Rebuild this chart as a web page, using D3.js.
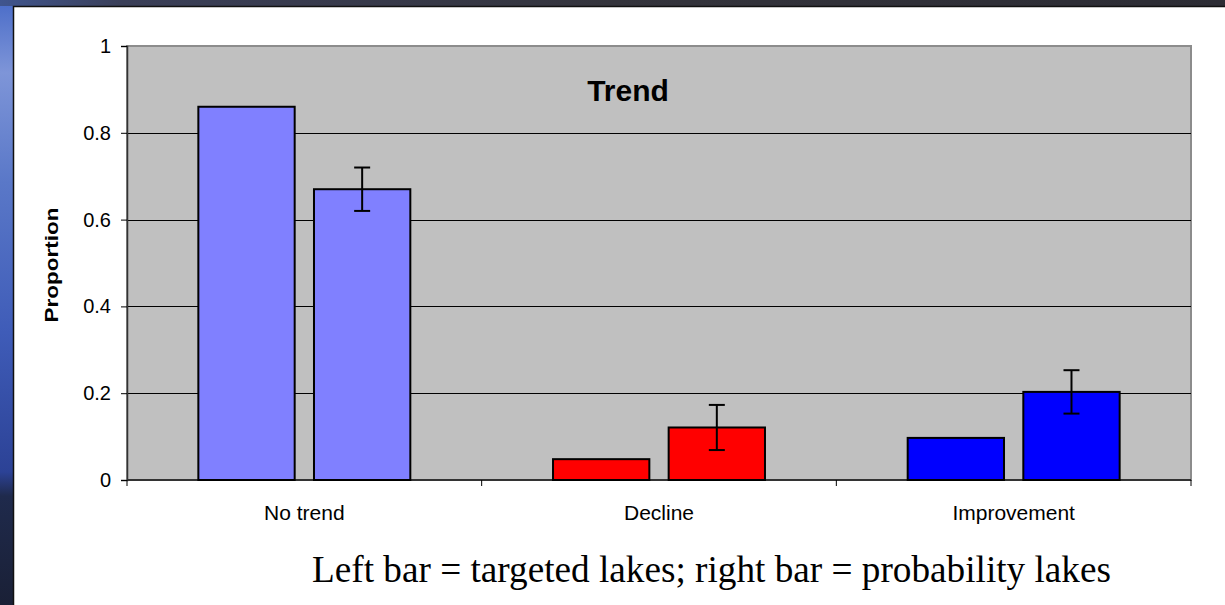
<!DOCTYPE html>
<html>
<head>
<meta charset="utf-8">
<script src="https://cdn.jsdelivr.net/npm/d3@7"></script>
<style>
  html, body { margin: 0; padding: 0; background: #1c2338; }
  svg { display: block; }
</style>
</head>
<body>
<svg class="svg" width="1225" height="605"></svg>
<script>
// data
const categories = ["No trend", "Decline", "Improvement"];
const series = ["targeted", "probability"];
const targeted = [0.86, 0.048, 0.097];
const probability = [0.67, 0.121, 0.203];
const probabilityErr = [0.05, 0.052, 0.05];
const barColors = ["#8080ff", "#ff0000", "#0000ff"];
const yTicks = [0, 0.2, 0.4, 0.6, 0.8, 1];

const width = 1225, height = 605;
const plot = {left: 127, right: 1191, top: 46, bottom: 480};

const svg = d3.select(".svg");
const defs = svg.append("defs");

// slide background (blue strip on the left, dark strip on top)
const gLeft = defs.append("linearGradient").attr("id", "leftStrip")
    .attr("x1", 0).attr("y1", 0).attr("x2", 0).attr("y2", 1);
[[0, "#4a6cc8"], [0.12, "#7e95d8"], [0.3, "#5a78c8"], [0.55, "#3f5cb8"],
 [0.78, "#2c4296"], [0.82, "#1f2a4c"], [1, "#1a2036"]]
    .forEach(([o, c]) => gLeft.append("stop").attr("offset", o).attr("stop-color", c));
const gTop = defs.append("linearGradient").attr("id", "topStrip")
    .attr("x1", 0).attr("y1", 0).attr("x2", 1).attr("y2", 0);
[[0, "#40558e"], [0.1, "#3a3f58"], [0.5, "#34343c"], [1, "#2c2c34"]]
    .forEach(([o, c]) => gTop.append("stop").attr("offset", o).attr("stop-color", c));

svg.append("rect").attr("width", width).attr("height", height).attr("fill", "url(#leftStrip)");
svg.append("rect").attr("width", width).attr("height", 6).attr("fill", "url(#topStrip)");

// white panel
svg.append("rect")
    .attr("x", 13).attr("y", 6).attr("width", width - 13).attr("height", height - 6)
    .attr("fill", "#ffffff");
svg.append("path")
    .attr("d", `M13.5,${height}V6.5H${width}`)
    .attr("fill", "none").attr("stroke", "#111").attr("stroke-width", 1.5);

// scales
const x = d3.scaleBand().domain(categories).range([plot.left, plot.right]).padding(0);
const xInner = d3.scaleBand().domain(series).range([0, x.bandwidth()])
    .paddingInner(0.167).paddingOuter(0.617);
const y = d3.scaleLinear().domain([0, 1]).range([plot.bottom, plot.top]);

// plot area
svg.append("rect")
    .attr("x", plot.left).attr("y", plot.top)
    .attr("width", plot.right - plot.left).attr("height", plot.bottom - plot.top)
    .attr("fill", "#c0c0c0").attr("stroke", "#8c8c8c").attr("stroke-width", 2);

// gridlines
svg.append("g").selectAll("line")
    .data(yTicks.filter(d => d > 0 && d < 1))
    .enter().append("line")
    .attr("x1", plot.left).attr("x2", plot.right)
    .attr("y1", d => Math.round(y(d)) + 0.5).attr("y2", d => Math.round(y(d)) + 0.5)
    .attr("stroke", "#000").attr("stroke-width", 1);

// y axis
const yAxis = svg.append("g")
    .attr("transform", `translate(${plot.left},0)`)
    .call(d3.axisLeft(y).tickValues(yTicks).tickFormat(d3.format("")).tickSize(6).tickPadding(10));
yAxis.select(".domain").attr("stroke", "#333").attr("stroke-width", 1.5);
yAxis.selectAll(".tick line").attr("stroke", "#000");
yAxis.selectAll(".tick text")
    .attr("font-family", "Liberation Sans, Arial, sans-serif")
    .attr("font-size", 20).attr("fill", "#000");

// x axis with category boundary ticks
const xAxisG = svg.append("g").attr("transform", `translate(0,${plot.bottom})`);
xAxisG.append("line")
    .attr("x1", plot.left).attr("x2", plot.right).attr("y1", 0).attr("y2", 0)
    .attr("stroke", "#333").attr("stroke-width", 2);
xAxisG.selectAll(".sep")
    .data(categories.map(c => x(c)).concat([plot.right]))
    .enter().append("line")
    .attr("x1", d => d).attr("x2", d => d).attr("y1", 0).attr("y2", 6)
    .attr("stroke", "#000").attr("stroke-width", 1);
xAxisG.selectAll(".cat")
    .data(categories)
    .enter().append("text")
    .attr("x", d => x(d) + x.bandwidth() / 2)
    .attr("y", 40)
    .attr("text-anchor", "middle")
    .attr("font-family", "Liberation Sans, Arial, sans-serif")
    .attr("font-size", 21)
    .text(d => d);

// bars
const groups = svg.append("g").selectAll(".grp")
    .data(categories)
    .enter().append("g")
    .attr("class", "grp")
    .attr("transform", d => `translate(${x(d)},0)`);

groups.append("rect")
    .attr("x", (d, i) => xInner("targeted"))
    .attr("y", (d, i) => y(targeted[i]))
    .attr("width", xInner.bandwidth())
    .attr("height", (d, i) => y(0) - y(targeted[i]))
    .attr("fill", (d, i) => barColors[i])
    .attr("stroke", "#000").attr("stroke-width", 2);

groups.append("rect")
    .attr("x", (d, i) => xInner("probability"))
    .attr("y", (d, i) => y(probability[i]))
    .attr("width", xInner.bandwidth())
    .attr("height", (d, i) => y(0) - y(probability[i]))
    .attr("fill", (d, i) => barColors[i])
    .attr("stroke", "#000").attr("stroke-width", 2);

// error bars on the probability lakes
const err = groups.append("g")
    .attr("transform", `translate(${xInner("probability") + xInner.bandwidth() / 2},0)`)
    .attr("stroke", "#000").attr("stroke-width", 2);
err.append("line")
    .attr("y1", (d, i) => y(probability[i] + probabilityErr[i]))
    .attr("y2", (d, i) => y(probability[i] - probabilityErr[i]));
err.append("line")
    .attr("x1", -8).attr("x2", 8)
    .attr("y1", (d, i) => y(probability[i] + probabilityErr[i]))
    .attr("y2", (d, i) => y(probability[i] + probabilityErr[i]));
err.append("line")
    .attr("x1", -8).attr("x2", 8)
    .attr("y1", (d, i) => y(probability[i] - probabilityErr[i]))
    .attr("y2", (d, i) => y(probability[i] - probabilityErr[i]));

// titles
svg.append("text")
    .attr("x", 628).attr("y", 101)
    .attr("text-anchor", "middle")
    .attr("font-family", "Liberation Sans, Arial, sans-serif")
    .attr("font-weight", "bold").attr("font-size", 30)
    .text("Trend");

svg.append("text")
    .attr("transform", "translate(58,265) rotate(-90)")
    .attr("text-anchor", "middle")
    .attr("font-family", "Liberation Sans, Arial, sans-serif")
    .attr("font-weight", "bold").attr("font-size", 19)
    .attr("textLength", 115).attr("lengthAdjust", "spacingAndGlyphs")
    .text("Proportion");

svg.append("text")
    .attr("x", 312).attr("y", 582)
    .attr("font-family", "Liberation Serif, Times New Roman, serif")
    .attr("font-size", 37)
    .attr("textLength", 799).attr("lengthAdjust", "spacingAndGlyphs")
    .text("Left bar = targeted lakes; right bar = probability lakes");
</script>
</body>
</html>
